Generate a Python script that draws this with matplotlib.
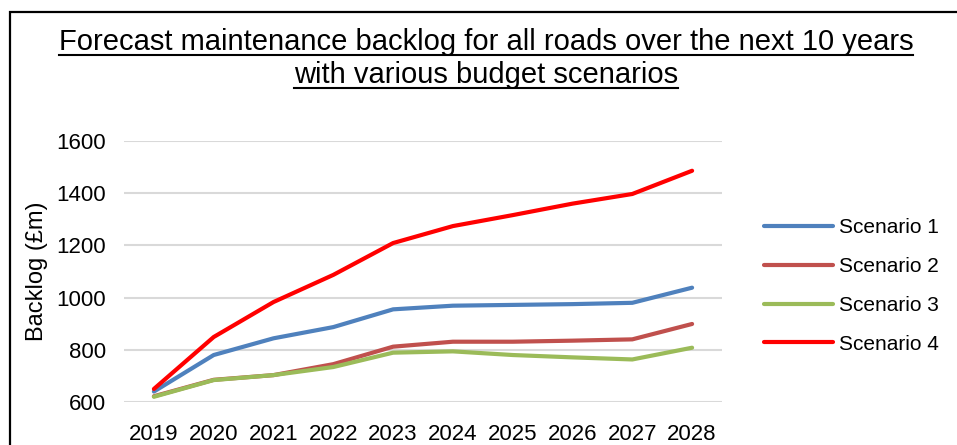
import matplotlib.pyplot as plt
from matplotlib.lines import Line2D
from matplotlib.patches import Rectangle

plt.rcParams['font.family'] = ['Liberation Sans', 'DejaVu Sans']

years = ['2019', '2020', '2021', '2022', '2023', '2024', '2025', '2026', '2027', '2028']
scenario_1 = [640, 780, 844, 887, 955, 969, 972, 975, 980, 1038]
scenario_2 = [622, 685, 703, 745, 812, 831, 831, 835, 840, 899]
scenario_3 = [620, 684, 703, 734, 789, 794, 780, 771, 763, 808]
scenario_4 = [650, 849, 983, 1087, 1209, 1274, 1316, 1360, 1397, 1486]
y_ticks = [600, 800, 1000, 1200, 1400, 1600]

series = [
    ('Scenario 1', scenario_1, '#4F81BD'),
    ('Scenario 2', scenario_2, '#C0504D'),
    ('Scenario 3', scenario_3, '#9BBB59'),
    ('Scenario 4', scenario_4, '#FF0000'),
]

W, H = 957, 445
fig = plt.figure(figsize=(W / 100, H / 100), dpi=100)

# chart frame (runs off the right and bottom edge of the crop)
fig.patches.append(Rectangle((10 / W, -0.1), 1.2, 1 - 11.5 / H + 0.1,
                             transform=fig.transFigure, fill=False,
                             edgecolor='black', linewidth=1.6))

ax = fig.add_axes([124 / W, 1 - 402 / H, 598 / W, 261 / H])
x = list(range(len(years)))
for name, vals, col in series:
    ax.plot(x, vals, color=col, linewidth=3.0, label=name, solid_capstyle='round')

ax.set_xlim(-0.5, len(years) - 0.5)
ax.set_ylim(600, 1600)
ax.set_yticks(y_ticks)
ax.set_xticks(x)
ax.set_xticklabels(years)
ax.tick_params(axis='both', length=0, labelsize=16)
ax.tick_params(axis='y', pad=13)
ax.tick_params(axis='x', pad=16)
ax.grid(axis='y', color='#D9D9D9', linewidth=1.5)
ax.set_axisbelow(True)
for s in ax.spines.values():
    s.set_visible(False)

fig.text(37 / W, 1 - 271 / H, 'Backlog (£m)', rotation=90, fontsize=17,
         ha='center', va='center')

fig.legend(loc='center left', bbox_to_anchor=(745 / W, 1 - 286 / H),
           frameon=False, fontsize=15, handlelength=3.3, handletextpad=0.3,
           labelspacing=0.95)

# underlined two-line title
titles = ['Forecast maintenance backlog for all roads over the next 10 years',
          'with various budget scenarios']
title_y = [42, 75]
fig.canvas.draw()
r = fig.canvas.get_renderer()
for t, yy in zip(titles, title_y):
    txt = fig.text(486 / W, 1 - yy / H, t, fontsize=21, ha='center', va='center')
    bb = txt.get_window_extent(renderer=r)
    uy = bb.y0 + 1
    fig.add_artist(Line2D([bb.x0 / W, bb.x1 / W], [uy / H, uy / H],
                          transform=fig.transFigure, color='black', linewidth=1.5))

fig.savefig('out.png', dpi=100)
